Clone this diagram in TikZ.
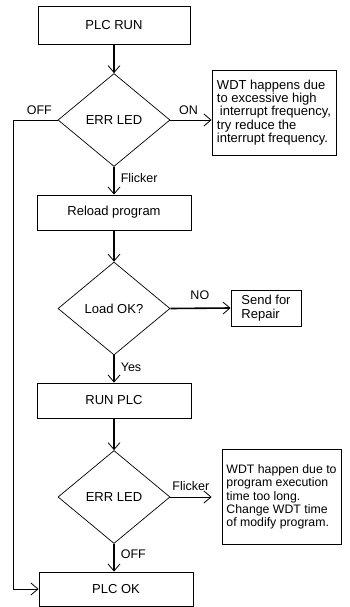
\documentclass[tikz,border=0pt]{standalone}
\usepackage{fontspec}
\setmainfont{Liberation Sans}
\usetikzlibrary{arrows.meta,shapes.geometric}

\begin{document}
\begin{tikzpicture}[
  x=1pt, y=-1pt,
  every node/.style={font=\fontsize{13}{13.3}\selectfont},
  box/.style={draw, line width=0.9pt, minimum width=154pt, minimum height=35pt, inner sep=0pt},
  dec/.style={draw, diamond, line width=0.7pt, minimum width=112pt, minimum height=93pt, inner sep=0pt},
  note/.style={draw, line width=0.9pt, align=left, inner sep=4pt},
  lbl/.style={inner sep=1pt, font=\fontsize{12.5}{13}\selectfont},
  flow/.style={->, line width=1.6pt},
  side/.style={->, line width=0.8pt},
  >={Straight Barb[length=7pt,width=12pt,line width=0.8pt]}
]
\useasboundingbox (0,0) rectangle (350,607);

\node[box, minimum width=152pt, minimum height=38pt] (run) at (114,25) {PLC RUN};
\node[dec] (err1) at (114,120) {ERR LED};
\node[note, minimum width=124pt, minimum height=85pt] (wdt1) at (274,112.5)
  {WDT happens due\\to excessive high\\\hspace*{3pt}interrupt frequency,\\try reduce the\\interrupt frequency.};
\node[box] (reload) at (114,212.5) {Reload program};
\node[dec] (load) at (114,308.5) {Load OK?};
\node[note, minimum width=70pt, minimum height=36pt, inner sep=3pt] (repair) at (266,308) {Send for\\Repair};
\node[box] (runplc) at (114,400.5) {RUN PLC};
\node[dec] (err2) at (114,497) {ERR LED};
\node[note, minimum width=119pt, minimum height=95pt, font=\fontsize{12.3}{13.3}\selectfont] (wdt2) at (281.5,497)
  {WDT happen due to\\program execution\\time too long.\\Change WDT time\\of modify program.};
\node[box, minimum height=34pt] (ok) at (116,589) {PLC OK};
\coordinate (rail) at (13,0);

% main flow
\draw[flow] (run) -- (err1);
\draw[flow] (err1.south) -- node[lbl, right=5pt, pos=0.39] {Flicker} (reload.north);
\draw[flow] (reload) -- (load);
\draw[flow] (load.south) -- node[lbl, right=5pt, pos=0.44] {Yes} (runplc.north);
\draw[flow] (runplc) -- (err2);
\draw[flow] (err2.south) -- node[lbl, right=5pt, pos=0.36] {OFF} (err2.south |- ok.north);

% side branches
\draw[side] (err1.east) -- node[lbl, above=4pt, pos=0.44] {ON} (err1.east -| wdt1.west);
\draw[flow] (load.east) -- node[lbl, above=6.5pt, pos=0.49] {NO} (repair.west);
\draw[side, shorten >=10pt] (err2.east) -- node[lbl, above=4.5pt, pos=0.4] {Flicker} (err2.east -| wdt2.west);
\draw[side] (err1.west) -- node[lbl, above=4pt, pos=0.41] {OFF} (err1.west -| rail) |- (ok.west);
\end{tikzpicture}
\end{document}
